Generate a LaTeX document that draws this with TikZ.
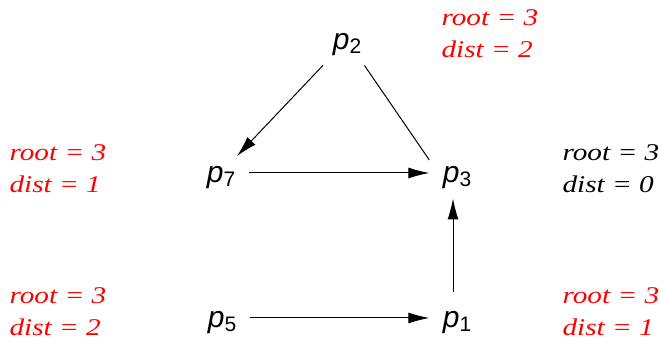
\documentclass[tikz,border=0pt]{standalone}
\usepackage{fontspec}
\setmainfont[FakeStretch=1.22]{Liberation Serif}
\newfontfamily\procfont{Liberation Sans}
\usetikzlibrary{arrows.meta}
\newcommand{\proc}[1]{{\procfont\itshape p}\raisebox{-4pt}{\procfont\fontsize{21}{21}\selectfont #1}}
\begin{document}
\begin{tikzpicture}[>={Latex[length=21pt,width=11pt]}, x=1pt, y=1pt, line width=1pt,
    proc/.style={anchor=base, inner xsep=13pt, inner ysep=15pt, text height=20pt, text depth=0pt,
        font=\procfont\fontsize{30}{30}\selectfont},
    info/.style={anchor=base west, align=left, inner sep=0pt, red,
        font=\itshape\fontsize{24}{32}\selectfont}]
    \useasboundingbox (0,0) rectangle (660,342);
    \node (p2) at (347,292) [proc] {\proc{2}};
    \node (p7) at (221,159) [proc] {\proc{7}};
    \node (p3) at (457,159) [proc] {\proc{3}};
    \node (p5) at (222,14) [proc] {\proc{5}};
    \node (p1) at (457,14) [proc] {\proc{1}};
    \draw[->, shorten >=-12pt] (p2)--(p7);
    \draw (p2)--([yshift=13pt]p3.west);
    \draw[->] (p7)--(p3);
    \draw[->] (p5)--(p1);
    \draw[->] ([xshift=-4pt]p1.north)--([xshift=-4pt]p3.south);
    \node (i2) at (441,284) [info] {root = 3\\dist = 2};
    \node (i7) at (9,149) [info] {root = 3\\dist = 1};
    \node (i3) at (562,149) [info, black] {root = 3\\dist = 0};
    \node (i5) at (9,6) [info] {root = 3\\dist = 2};
    \node (i1) at (562,6) [info] {root = 3\\dist = 1};
\end{tikzpicture}
\end{document}
